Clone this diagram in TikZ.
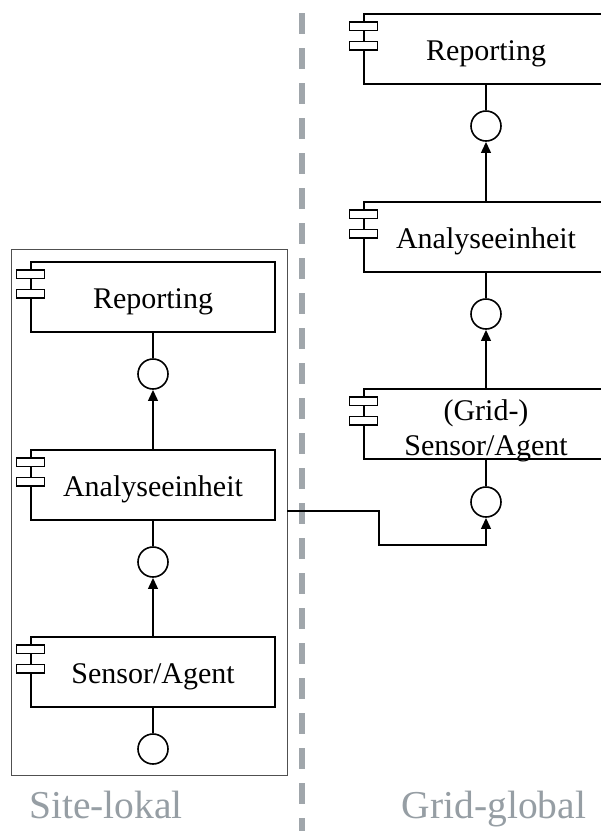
\documentclass[tikz,border=0pt]{standalone}
\usepackage{fontspec}
\setmainfont{Liberation Serif}
\usetikzlibrary{arrows.meta}
\definecolor{divgray}{RGB}{160,166,171}
\definecolor{lblgray}{RGB}{150,158,164}
\definecolor{framegray}{RGB}{80,80,80}
\tikzset{
 compbox/.style={draw, line width=1.5pt, minimum width=244pt, minimum height=70pt, inner sep=0pt,
   font=\fontsize{30}{35}\selectfont, align=center, fill=white},
 comp/.style={compbox, text height=22pt, text depth=0pt},
 iface/.style={draw, circle, line width=1.6pt, minimum size=30pt, inner sep=0pt, fill=white},
 link/.style={line width=2.3pt},
 dep/.style={line width=2.3pt, -{Triangle[length=11pt,width=9.5pt]}},
 compicon/.style={draw, line width=1.1pt, fill=white, minimum width=28pt, minimum height=8.5pt, inner sep=0pt},
 lbl/.style={text=lblgray, font=\fontsize{39.5}{44}\selectfont, anchor=base, inner sep=0pt},
 frame/.style={draw=framegray, line width=1pt, minimum width=276pt, minimum height=526pt, inner sep=0pt},
}
\newcommand{\compmark}[1]{%
  \node[compicon, yshift=-13pt] at (#1.north west) {};
  \node[compicon, yshift=-32.5pt] at (#1.north west) {};
}
\begin{document}
\begin{tikzpicture}[x=1pt,y=-1pt]
\useasboundingbox (0,0) rectangle (601,831);
\clip (0,0) rectangle (601,831);
\fill[white] (0,0) rectangle (601,831);
% divider
\coordinate (divtop) at (302,13);
\coordinate (divbot) at (302,835);
\draw[divgray, line width=6pt, dash pattern=on 21pt off 14pt] (divtop) -- (divbot);
% site frame
\node[frame] (site) at (149,512) {};
% left components
\node[comp] (repL) at (153,297) {Reporting};
\node[comp] (anaL) at (153,485) {Analyseeinheit};
\node[comp] (senL) at (153,672) {Sensor/Agent};
\compmark{repL}\compmark{anaL}\compmark{senL}
\node[iface] (ifL1) at (153,374) {};
\node[iface] (ifL2) at (153,562) {};
\node[iface] (ifL3) at (153,749) {};
% right components
\node[comp] (repR) at (486,49) {Reporting};
\node[comp] (anaR) at (486,237) {Analyseeinheit};
\node[compbox, label={[font=\fontsize{30}{35}\selectfont, align=center, inner sep=0pt, yshift=-6.5pt]center:{(Grid-)\\Sensor/Agent}}] (senR) at (486,424) {};
\compmark{repR}\compmark{anaR}\compmark{senR}
\node[iface] (ifR1) at (486,126) {};
\node[iface] (ifR2) at (486,314) {};
\node[iface] (ifR3) at (486,502) {};
% connectors
\draw[link] (repL) -- (ifL1);
\draw[dep] (anaL) -- (ifL1);
\draw[link] (anaL) -- (ifL2);
\draw[dep] (senL) -- (ifL2);
\draw[link] (senL) -- (ifL3);
\draw[link] (repR) -- (ifR1);
\draw[dep] (anaR) -- (ifR1);
\draw[link] (anaR) -- (ifR2);
\draw[dep] (senR) -- (ifR2);
\draw[link] (senR) -- (ifR3);
\coordinate (xstart) at (287,511);
\coordinate (bend) at (379,545);
\draw[dep] (xstart) -| (bend) -| (ifR3);
% labels
\node[lbl] (sitelbl) at (106,818) {Site-lokal};
\node[lbl] (gridlbl) at (494,818) {Grid-global};
\end{tikzpicture}
\end{document}
